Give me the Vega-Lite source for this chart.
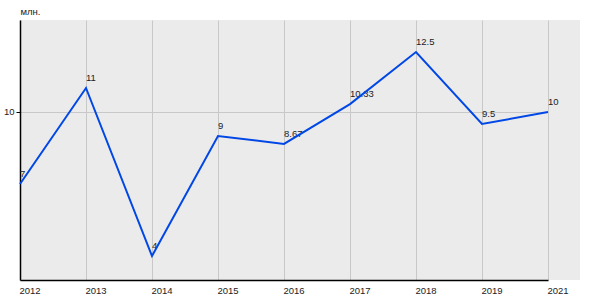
{
  "$schema": "https://vega.github.io/schema/vega-lite/v6.json",
  "width": 560,
  "height": 260,
  "autosize": {"type": "none"},
  "padding": {"left": 20, "top": 20, "right": 20, "bottom": 20},
  "background": "white",
  "config": {
    "view": {"fill": "#ebebeb", "stroke": null},
    "font": "Liberation Sans"
  },
  "data": {
    "values": [
      {"year": "2012", "value": 7, "label": "7"},
      {"year": "2013", "value": 11, "label": "11"},
      {"year": "2014", "value": 4, "label": "4"},
      {"year": "2015", "value": 9, "label": "9"},
      {"year": "2016", "value": 8.67, "label": "8.67"},
      {"year": "2017", "value": 10.33, "label": "10.33"},
      {"year": "2018", "value": 12.5, "label": "12.5"},
      {"year": "2019", "value": 9.5, "label": "9.5"},
      {"year": "2021", "value": 10, "label": "10"}
    ]
  },
  "encoding": {
    "x": {
      "field": "year",
      "type": "ordinal",
      "scale": {"type": "point", "range": [0, 528], "padding": 0},
      "axis": {
        "title": null,
        "labelAngle": 0,
        "labelAlign": "left",
        "labelFontSize": 9.5,
        "labelColor": "#222",
        "labelPadding": 5,
        "labelOffset": -1,
        "ticks": false,
        "domainColor": "#000",
        "domainWidth": 1.5,
        "grid": true,
        "gridColor": "#c8c8c8",
        "gridWidth": 1
      }
    },
    "y": {
      "field": "value",
      "type": "quantitative",
      "scale": {"domain": [3, 13.8333], "nice": false, "zero": false},
      "axis": {
        "values": [10],
        "title": "млн.",
        "titleAngle": 0,
        "titleAlign": "left",
        "titleBaseline": "alphabetic",
        "titleX": 0,
        "titleY": -6,
        "titleFontSize": 9.5,
        "titleFontWeight": "normal",
        "titleColor": "#222",
        "labelFontSize": 9.5,
        "labelColor": "#222",
        "labelPadding": 2,
        "tickSize": 4,
        "tickColor": "#000",
        "domainColor": "#000",
        "domainWidth": 1.5,
        "grid": true,
        "gridColor": "#c8c8c8",
        "gridWidth": 1
      }
    }
  },
  "layer": [
    {
      "mark": {"type": "text", "align": "left", "baseline": "alphabetic", "dx": 0, "dy": -7, "fontSize": 9.5, "color": "#222"},
      "encoding": {"text": {"field": "label"}}
    },
    {
      "mark": {"type": "line", "color": "#0047e6", "strokeWidth": 2},
      "encoding": {}
    }
  ]
}
